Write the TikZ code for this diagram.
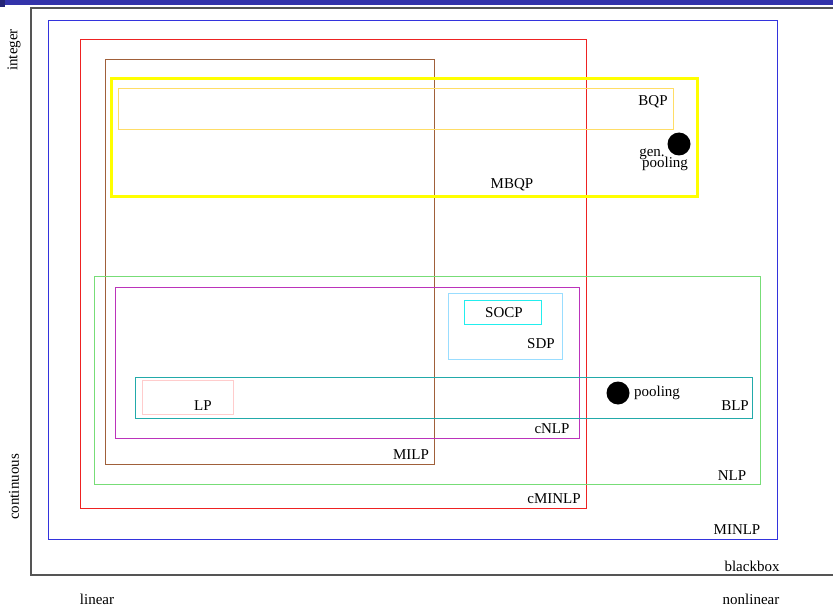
\documentclass[tikz,border=0pt]{standalone}
\usepackage{fontspec}
\setmainfont{Liberation Serif}
\definecolor{barblue}{HTML}{3333AA}
\definecolor{axisgray}{HTML}{555555}
\definecolor{minlpblue}{HTML}{3333DD}
\definecolor{cminlpred}{HTML}{EE2222}
\definecolor{milpbrown}{HTML}{A0603A}
\definecolor{mbqpyellow}{HTML}{FFFF00}
\definecolor{bqpyellow}{HTML}{FFDD66}
\definecolor{nlpgreen}{HTML}{77DD77}
\definecolor{cnlpmagenta}{HTML}{BB33BB}
\definecolor{sdpblue}{HTML}{99DDFF}
\definecolor{socpcyan}{HTML}{22EEEE}
\definecolor{blpteal}{HTML}{22AAAA}
\definecolor{lppink}{HTML}{FFCCCC}
\begin{document}
\begin{tikzpicture}[x=1pt,y=-1pt,
  lab/.style={font=\fontsize{15}{17}\selectfont,inner sep=0pt},
  cls/.style={line width=1pt},
  dot/.style={circle,fill=black,minimum size=23pt,inner sep=0pt}]
\useasboundingbox (0,0) rectangle (833,607);
% slide bar
\fill[barblue] (0,0) rectangle (833,5);
\fill[barblue!70!black] (0,0) rectangle (5,7);
% axes
\draw[axisgray,line width=1.3pt] (833,8) -- (31,8) -- (31,575) -- (833,575);
\node[lab,rotate=90] (integer) at (14,50) {integer};
\node[lab,rotate=90] (continuous) at (14,487) {continuous};
\node[lab] (linear) at (97,599) {linear};
\node[lab] (nonlinear) at (751,599) {nonlinear};
\node[lab] (blackbox) at (752,566) {blackbox};
% classes
\draw[cls,minlpblue] (48,21) rectangle (777,539);
\node[lab] (minlp) at (737,530) {MINLP};
\draw[cls,cminlpred] (80,40) rectangle (586,508);
\node[lab] (cminlp) at (554,499) {cMINLP};
\draw[cls,milpbrown] (105,60) rectangle (434,464);
\node[lab] (milp) at (411,455) {MILP};
\draw[mbqpyellow,line width=3pt] (111,79) rectangle (697,196);
\node[lab] (mbqp) at (512,185) {MBQP};
\draw[cls,bqpyellow] (118,89) rectangle (673,130);
\node[lab] (bqp) at (653,102) {BQP};
\node[dot] (genpooldot) at (679,144) {};
\node[lab] (gen) at (652,154) {gen.};
\node[lab] (genpool) at (665,164) {pooling};
\draw[cls,nlpgreen] (94,276) rectangle (760,484);
\node[lab] (nlp) at (732,476) {NLP};
\draw[cls,cnlpmagenta] (115,287) rectangle (579,438);
\node[lab] (cnlp) at (552,429) {cNLP};
\draw[cls,sdpblue] (448,293) rectangle (562,359);
\node[lab] (sdp) at (541,344) {SDP};
\draw[cls,socpcyan] (464,300) rectangle (541,324);
\node[lab] (socp) at (504,313) {SOCP};
\draw[cls,blpteal] (135,377) rectangle (752,418);
\node[lab] (blp) at (735,406) {BLP};
\draw[cls,lppink] (142,380) rectangle (233,414);
\node[lab] (lp) at (203,406) {LP};
\node[dot] (pooldot) at (618,393) {};
\node[lab] (pool) at (657,393) {pooling};
\end{tikzpicture}
\end{document}
